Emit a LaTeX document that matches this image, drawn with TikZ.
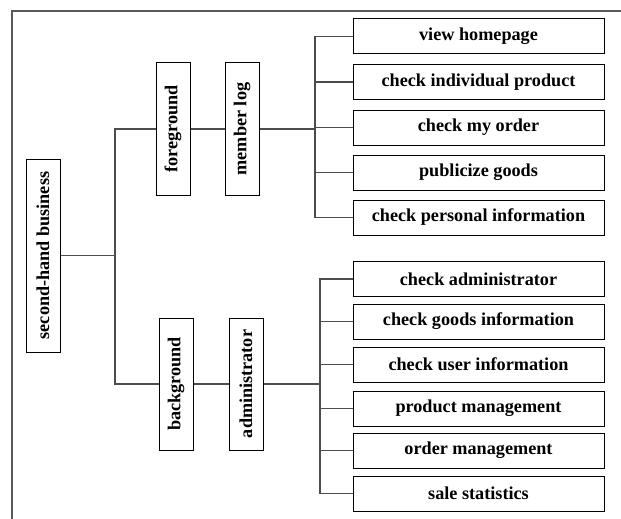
\documentclass[tikz,border=0pt]{standalone}
\usepackage{fontspec}
\setmainfont{Liberation Serif}
\begin{document}
\begin{tikzpicture}[x=1pt,y=-1pt,
  box/.style={draw=black,line width=1pt,fill=white,inner sep=0pt,font=\fontsize{18.2}{22}\selectfont\bfseries},
  leaf/.style={box,minimum width=251pt,minimum height=35pt},
  vbox/.style={box,rotate=90,minimum width=132pt,minimum height=34pt},
  conn/.style={draw=black!70,line width=1.2pt}]
\useasboundingbox (0,0) rectangle (621,519);
\draw[black!65,line width=1.3pt] (621,11) -- (12,11) -- (12,519);
% root
\node[box,rotate=90,minimum width=193pt,minimum height=34pt] (root) at (43,255.5) {second-hand business};
\node[vbox] (fg) at (173,129) {foreground};
\node[vbox] (ml) at (242,129) {member log};
\node[vbox] (bg) at (176,384) {background};
\node[vbox] (ad) at (246,384) {administrator};
% top leaves
\node[leaf] (t1) at (478.5,36.5) {view homepage};
\node[leaf] (t2) at (478.5,82) {check individual product};
\node[leaf] (t3) at (478.5,127.5) {check my order};
\node[leaf] (t4) at (478.5,172.5) {publicize goods};
\node[leaf] (t5) at (478.5,217.5) {check personal information};
% bottom leaves
\node[leaf] (b1) at (478.5,279) {check administrator};
\node[leaf] (b2) at (478.5,321.5) {check goods information};
\node[leaf] (b3) at (478.5,364.5) {check user information};
\node[leaf] (b4) at (478.5,408.5) {product management};
\node[leaf] (b5) at (478.5,450.5) {order management};
\node[leaf] (b6) at (478.5,493.5) {sale statistics};
% junctions
\coordinate (j1) at (115,255.5);
\coordinate (j2) at (315,129);
\coordinate (j3) at (320,384);
% connectors
\draw[conn] (root.south) -- (j1);
\draw[conn] (fg.north) -| (j1) |- (bg.north);
\draw[conn] (fg.south) -- (ml.north);
\draw[conn] (bg.south) -- (ad.north);
\draw[conn] (ml.south) -- (j2);
\draw[conn] (t1.west) -| (j2) |- (t5.west);
\draw[conn] (t2.west) -- (t2.west -| j2);
\draw[conn] (t3.west) -- (t3.west -| j2);
\draw[conn] (t4.west) -- (t4.west -| j2);
\draw[conn] (ad.south) -- (j3);
\draw[conn] (b1.west) -| (j3) |- (b6.west);
\draw[conn] (b2.west) -- (b2.west -| j3);
\draw[conn] (b3.west) -- (b3.west -| j3);
\draw[conn] (b4.west) -- (b4.west -| j3);
\draw[conn] (b5.west) -- (b5.west -| j3);
\end{tikzpicture}
\end{document}
